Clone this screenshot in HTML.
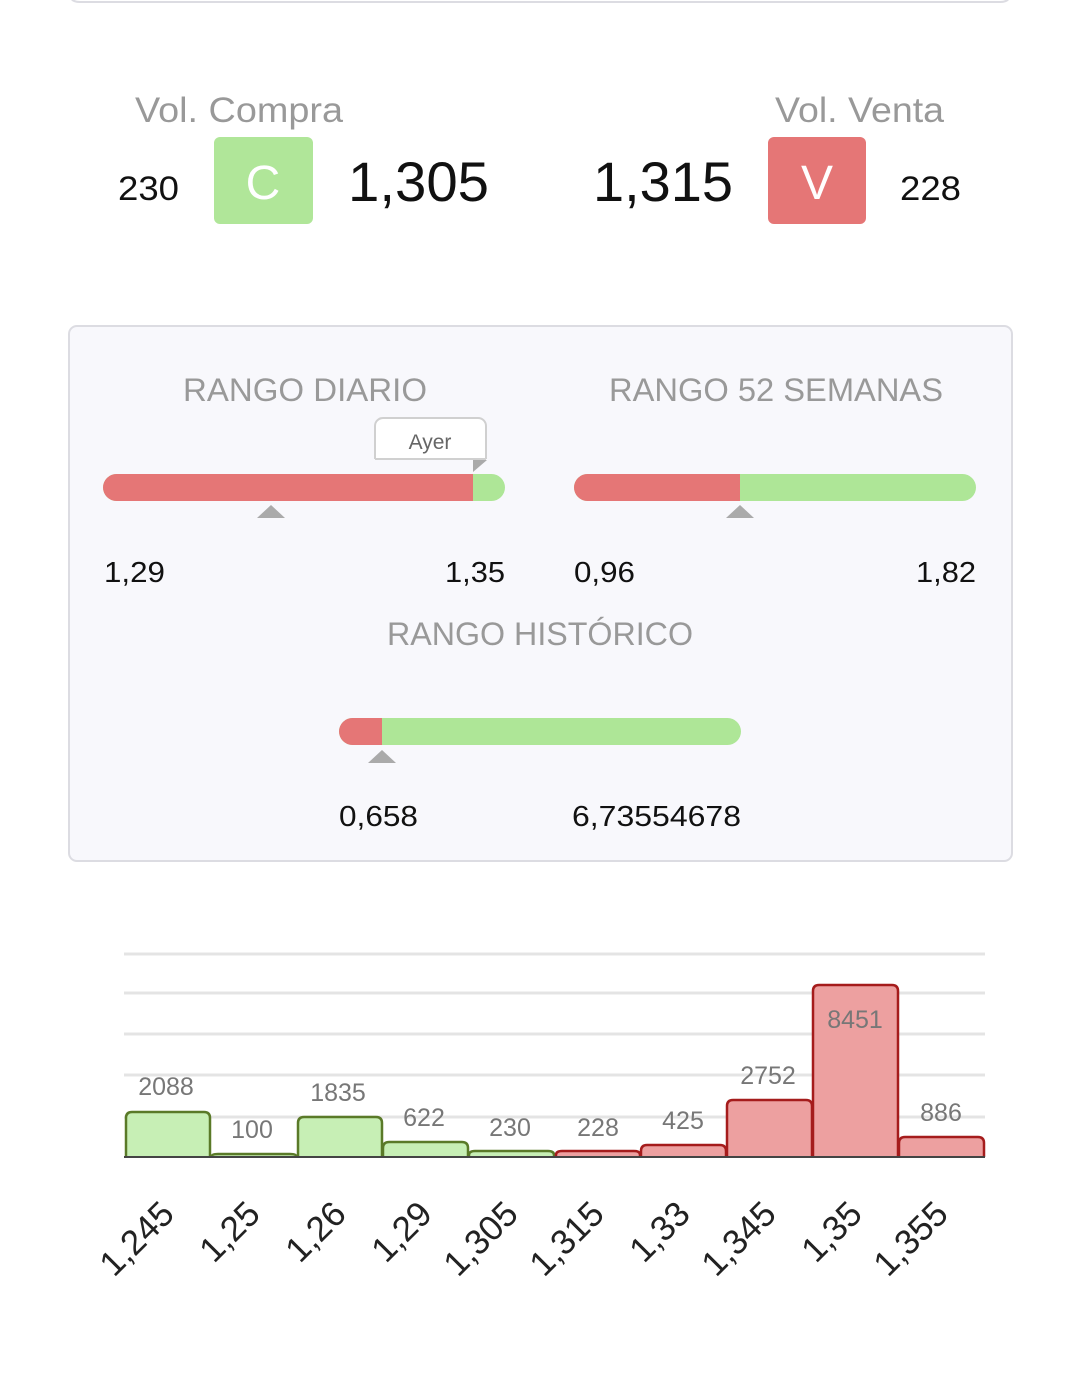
<!DOCTYPE html>
<html><head><meta charset="utf-8"><style>
html,body{margin:0;padding:0;background:#fff;}
svg{display:block;font-family:"Liberation Sans","DejaVu Sans",sans-serif;}
</style></head><body>
<svg width="1080" height="1378" viewBox="0 0 1080 1378" xmlns="http://www.w3.org/2000/svg">
<rect width="1080" height="1378" fill="#fff"/>
<path d="M70 -10 V-6 Q70 2 80 2 H1000 Q1010 2 1010 -6 V-10" fill="none" stroke="#dcdce2" stroke-width="2"/>

<text x="135" y="122" font-size="35" fill="#999" textLength="208" lengthAdjust="spacingAndGlyphs">Vol. Compra</text>
<text x="775" y="122" font-size="35" fill="#999" textLength="169" lengthAdjust="spacingAndGlyphs">Vol. Venta</text>
<text x="118" y="200" font-size="34" fill="#111" textLength="61" lengthAdjust="spacingAndGlyphs">230</text>
<rect x="214" y="137" width="99" height="87" rx="6" fill="#b0e699"/>
<text x="263" y="199" font-size="48" fill="#fff" text-anchor="middle">C</text>
<text x="348" y="201" font-size="56" fill="#111" textLength="141" lengthAdjust="spacingAndGlyphs">1,305</text>
<text x="593" y="201" font-size="56" fill="#111" textLength="140" lengthAdjust="spacingAndGlyphs">1,315</text>
<rect x="768" y="137" width="98" height="87" rx="6" fill="#e57676"/>
<text x="817" y="199" font-size="48" fill="#fff" text-anchor="middle">V</text>
<text x="900" y="200" font-size="34" fill="#111" textLength="61" lengthAdjust="spacingAndGlyphs">228</text>

<rect x="69" y="326" width="943" height="535" rx="8" fill="#f8f8fc" stroke="#dcdce2" stroke-width="2"/>
<text x="183" y="401" font-size="32" fill="#999" textLength="244" lengthAdjust="spacingAndGlyphs">RANGO DIARIO</text>
<text x="609" y="401" font-size="32" fill="#999" textLength="334" lengthAdjust="spacingAndGlyphs">RANGO 52 SEMANAS</text>
<text x="387" y="645" font-size="32" fill="#999" textLength="306" lengthAdjust="spacingAndGlyphs">RANGO HISTÓRICO</text>

<rect x="375" y="418" width="111" height="40" rx="8" fill="#fff" stroke="#d0d0d0" stroke-width="2"/>
<rect x="374" y="450" width="113" height="9" fill="#fff"/>
<line x1="375" y1="459" x2="486" y2="459" stroke="#d0d0d0" stroke-width="2"/>
<line x1="375" y1="445" x2="375" y2="459" stroke="#d0d0d0" stroke-width="2"/>
<line x1="486" y1="445" x2="486" y2="459" stroke="#d0d0d0" stroke-width="2"/>
<text x="430" y="449" font-size="21" fill="#666" text-anchor="middle">Ayer</text>
<polygon points="473,460 487,460 473,472" fill="#aaa"/>
<rect x="103" y="474" width="402" height="27" rx="13.5" fill="#aee697"/>
<path d="M116.5 474 H473 V501 H116.5 A13.5 13.5 0 0 1 116.5 474 Z" fill="#e57676"/>
<polygon points="271,505 285,518 257,518" fill="#aaa"/>
<text x="104" y="582" font-size="29" fill="#111" textLength="61" lengthAdjust="spacingAndGlyphs">1,29</text>
<text x="445" y="582" font-size="29" fill="#111" textLength="60" lengthAdjust="spacingAndGlyphs">1,35</text>

<rect x="574" y="474" width="402" height="27" rx="13.5" fill="#aee697"/>
<path d="M587.5 474 H740 V501 H587.5 A13.5 13.5 0 0 1 587.5 474 Z" fill="#e57676"/>
<polygon points="740,505 754,518 726,518" fill="#aaa"/>
<text x="574" y="582" font-size="29" fill="#111" textLength="61" lengthAdjust="spacingAndGlyphs">0,96</text>
<text x="916" y="582" font-size="29" fill="#111" textLength="60" lengthAdjust="spacingAndGlyphs">1,82</text>

<rect x="339" y="718" width="402" height="27" rx="13.5" fill="#aee697"/>
<path d="M352.5 718 H382 V745 H352.5 A13.5 13.5 0 0 1 352.5 718 Z" fill="#e57676"/>
<polygon points="382,750 396,763 368,763" fill="#aaa"/>
<text x="339" y="826" font-size="29" fill="#111" textLength="79" lengthAdjust="spacingAndGlyphs">0,658</text>
<text x="572" y="826" font-size="29" fill="#111" textLength="169" lengthAdjust="spacingAndGlyphs">6,73554678</text>

<g stroke="#e4e4e4" stroke-width="3">
<line x1="124" y1="954" x2="985" y2="954"/>
<line x1="124" y1="993" x2="985" y2="993"/>
<line x1="124" y1="1034" x2="985" y2="1034"/>
<line x1="124" y1="1075" x2="985" y2="1075"/>
<line x1="124" y1="1117" x2="985" y2="1117"/>
</g>
<g stroke-width="2.5">
<path d="M126 1157 V1118 Q126 1112 132 1112 H204 Q210 1112 210 1118 V1157" fill="#c7efb5" stroke="#5a7a28"/>
<path d="M212 1157 V1156 Q212 1154 218 1154 H290 Q296 1154 296 1156 V1157" fill="#c7efb5" stroke="#5a7a28"/>
<path d="M298 1157 V1123 Q298 1117 304 1117 H376 Q382 1117 382 1123 V1157" fill="#c7efb5" stroke="#5a7a28"/>
<path d="M383 1157 V1148 Q383 1142 389 1142 H462 Q468 1142 468 1148 V1157" fill="#c7efb5" stroke="#5a7a28"/>
<path d="M469 1157 V1155 Q469 1151 475 1151 H548 Q554 1151 554 1155 V1157" fill="#c7efb5" stroke="#5a7a28"/>
<path d="M556 1157 V1155 Q556 1151 562 1151 H634 Q640 1151 640 1155 V1157" fill="#eda0a0" stroke="#a51c1c"/>
<path d="M641 1157 V1151 Q641 1145 647 1145 H720 Q726 1145 726 1151 V1157" fill="#eda0a0" stroke="#a51c1c"/>
<path d="M727 1157 V1106 Q727 1100 733 1100 H806 Q812 1100 812 1106 V1157" fill="#eda0a0" stroke="#a51c1c"/>
<path d="M813 1157 V991 Q813 985 819 985 H892 Q898 985 898 991 V1157" fill="#eda0a0" stroke="#a51c1c"/>
<path d="M899 1157 V1143 Q899 1137 905 1137 H978 Q984 1137 984 1143 V1157" fill="#eda0a0" stroke="#a51c1c"/>
</g>
<line x1="124" y1="1157" x2="985" y2="1157" stroke="#444" stroke-width="2"/>
<g font-size="25" fill="#777" text-anchor="middle">
<text x="166" y="1095">2088</text>
<text x="252" y="1138">100</text>
<text x="338" y="1101">1835</text>
<text x="424" y="1126">622</text>
<text x="510" y="1136">230</text>
<text x="598" y="1136">228</text>
<text x="683" y="1129">425</text>
<text x="768" y="1084">2752</text>
<text x="855" y="1028">8451</text>
<text x="941" y="1121">886</text>
</g>
<g font-size="35" fill="#222" text-anchor="end">
<text transform="translate(176,1216) rotate(-45)">1,245</text>
<text transform="translate(262,1216) rotate(-45)">1,25</text>
<text transform="translate(348,1216) rotate(-45)">1,26</text>
<text transform="translate(434,1216) rotate(-45)">1,29</text>
<text transform="translate(520,1216) rotate(-45)">1,305</text>
<text transform="translate(606,1216) rotate(-45)">1,315</text>
<text transform="translate(692,1216) rotate(-45)">1,33</text>
<text transform="translate(778,1216) rotate(-45)">1,345</text>
<text transform="translate(864,1216) rotate(-45)">1,35</text>
<text transform="translate(950,1216) rotate(-45)">1,355</text>
</g>
</svg>
</body></html>
